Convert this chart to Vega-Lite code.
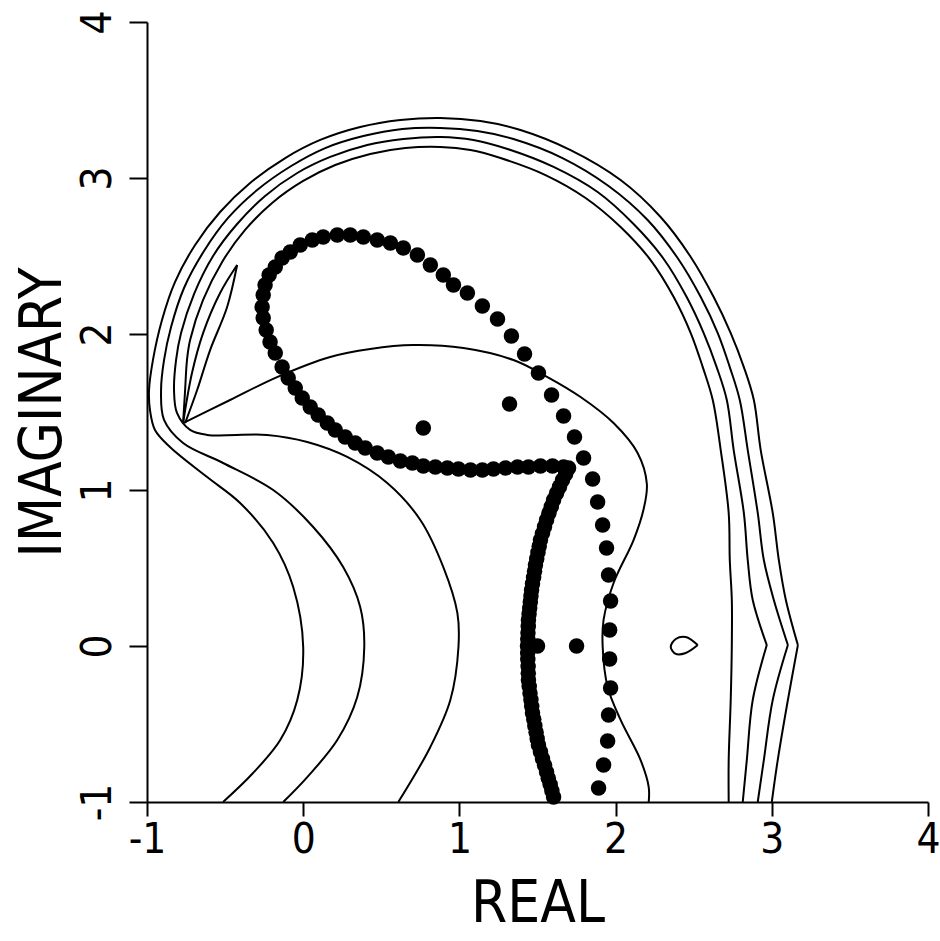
{
  "$schema": "https://vega.github.io/schema/vega-lite/v6.json",
  "width": 781,
  "height": 780,
  "autosize": {"type": "none"},
  "padding": {"left": 147, "top": 22, "right": 12, "bottom": 139},
  "background": "white",
  "config": {
    "view": {"stroke": null},
    "axis": {
      "grid": false,
      "domainColor": "black",
      "domainWidth": 2,
      "tickColor": "black",
      "tickWidth": 2,
      "labelColor": "black",
      "titleColor": "black",
      "labelFont": "DejaVu Sans Condensed, Liberation Sans Narrow, Liberation Sans",
      "titleFont": "DejaVu Sans Condensed, Liberation Sans Narrow, Liberation Sans",
      "labelFontSize": 42,
      "titleFontSize": 58,
      "titleFontWeight": "normal",
      "labelOverlap": false,
      "labelFlush": false
    }
  },
  "datasets": {
    "lines": [
      {"c":"L4a","i":0,"x":3.000,"y":-1.000},{"c":"L4a","i":1,"x":3.038,"y":-0.731},{"c":"L4a","i":2,"x":3.103,"y":-0.346},{"c":"L4a","i":3,"x":3.167,"y":0.006},
      {"c":"L4b","i":3,"x":3.167,"y":0.006},{"c":"L4b","i":4,"x":3.090,"y":0.295},{"c":"L4b","i":5,"x":3.045,"y":0.551},{"c":"L4b","i":6,"x":3.006,"y":0.853},{"c":"L4b","i":7,"x":2.929,"y":1.256},{"c":"L4b","i":8,"x":2.885,"y":1.577},{"c":"L4b","i":9,"x":2.821,"y":1.788},{"c":"L4b","i":10,"x":2.737,"y":2.006},{"c":"L4b","i":11,"x":2.628,"y":2.237},{"c":"L4b","i":12,"x":2.481,"y":2.494},{"c":"L4b","i":13,"x":2.288,"y":2.750},{"c":"L4b","i":14,"x":2.032,"y":2.987},{"c":"L4b","i":15,"x":1.712,"y":3.179},{"c":"L4b","i":16,"x":1.391,"y":3.308},{"c":"L4b","i":17,"x":1.135,"y":3.365},{"c":"L4b","i":18,"x":0.878,"y":3.385},{"c":"L4b","i":19,"x":0.622,"y":3.372},{"c":"L4b","i":20,"x":0.365,"y":3.327},{"c":"L4b","i":21,"x":0.109,"y":3.244},{"c":"L4b","i":22,"x":-0.115,"y":3.128},{"c":"L4b","i":23,"x":-0.340,"y":2.968},{"c":"L4b","i":24,"x":-0.532,"y":2.782},{"c":"L4b","i":25,"x":-0.692,"y":2.571},{"c":"L4b","i":26,"x":-0.821,"y":2.333},{"c":"L4b","i":27,"x":-0.904,"y":2.090},{"c":"L4b","i":28,"x":-0.962,"y":1.833},{"c":"L4b","i":29,"x":-0.987,"y":1.641},{"c":"L4b","i":30,"x":-0.981,"y":1.513},{"c":"L4b","i":31,"x":-0.949,"y":1.385},{"c":"L4b","i":32,"x":-0.853,"y":1.276},{"c":"L4b","i":33,"x":-0.615,"y":1.083},{"c":"L4b","i":34,"x":-0.404,"y":0.917},{"c":"L4b","i":35,"x":-0.192,"y":0.660},{"c":"L4b","i":36,"x":-0.064,"y":0.378},{"c":"L4b","i":37,"x":0.000,"y":-0.006},{"c":"L4b","i":38,"x":-0.038,"y":-0.346},{"c":"L4b","i":39,"x":-0.147,"y":-0.603},{"c":"L4b","i":40,"x":-0.321,"y":-0.814},{"c":"L4b","i":41,"x":-0.513,"y":-1.000},

      {"c":"L3a","i":0,"x":2.910,"y":-1.000},{"c":"L3a","i":1,"x":2.949,"y":-0.731},{"c":"L3a","i":2,"x":3.006,"y":-0.346},{"c":"L3a","i":3,"x":3.103,"y":0.006},
      {"c":"L3b","i":3,"x":3.103,"y":0.006},{"c":"L3b","i":4,"x":3.013,"y":0.295},{"c":"L3b","i":5,"x":2.949,"y":0.551},{"c":"L3b","i":6,"x":2.910,"y":0.853},{"c":"L3b","i":7,"x":2.846,"y":1.256},{"c":"L3b","i":8,"x":2.795,"y":1.577},{"c":"L3b","i":9,"x":2.731,"y":1.788},{"c":"L3b","i":10,"x":2.654,"y":2.006},{"c":"L3b","i":11,"x":2.545,"y":2.237},{"c":"L3b","i":12,"x":2.397,"y":2.487},{"c":"L3b","i":13,"x":2.205,"y":2.731},{"c":"L3b","i":14,"x":1.955,"y":2.949},{"c":"L3b","i":15,"x":1.660,"y":3.128},{"c":"L3b","i":16,"x":1.346,"y":3.250},{"c":"L3b","i":17,"x":1.115,"y":3.301},{"c":"L3b","i":18,"x":0.878,"y":3.321},{"c":"L3b","i":19,"x":0.635,"y":3.314},{"c":"L3b","i":20,"x":0.385,"y":3.269},{"c":"L3b","i":21,"x":0.141,"y":3.192},{"c":"L3b","i":22,"x":-0.077,"y":3.077},{"c":"L3b","i":23,"x":-0.295,"y":2.923},{"c":"L3b","i":24,"x":-0.481,"y":2.744},{"c":"L3b","i":25,"x":-0.635,"y":2.532},{"c":"L3b","i":26,"x":-0.763,"y":2.295},{"c":"L3b","i":27,"x":-0.846,"y":2.045},{"c":"L3b","i":28,"x":-0.891,"y":1.833},{"c":"L3b","i":29,"x":-0.910,"y":1.641},{"c":"L3b","i":30,"x":-0.891,"y":1.449},{"c":"L3b","i":31,"x":-0.769,"y":1.301},{"c":"L3b","i":32,"x":-0.513,"y":1.173},{"c":"L3b","i":33,"x":-0.192,"y":1.000},{"c":"L3b","i":34,"x":0.064,"y":0.763},{"c":"L3b","i":35,"x":0.256,"y":0.506},{"c":"L3b","i":36,"x":0.365,"y":0.250},{"c":"L3b","i":37,"x":0.391,"y":-0.006},{"c":"L3b","i":38,"x":0.346,"y":-0.327},{"c":"L3b","i":39,"x":0.218,"y":-0.603},{"c":"L3b","i":40,"x":0.026,"y":-0.840},{"c":"L3b","i":41,"x":-0.128,"y":-1.000},

      {"c":"L2a","i":0,"x":2.814,"y":-1.000},{"c":"L2a","i":1,"x":2.840,"y":-0.731},{"c":"L2a","i":2,"x":2.878,"y":-0.346},{"c":"L2a","i":3,"x":2.968,"y":0.006},
      {"c":"L2b","i":3,"x":2.968,"y":0.006},{"c":"L2b","i":4,"x":2.878,"y":0.295},{"c":"L2b","i":5,"x":2.846,"y":0.551},{"c":"L2b","i":6,"x":2.821,"y":0.853},{"c":"L2b","i":7,"x":2.756,"y":1.256},{"c":"L2b","i":8,"x":2.712,"y":1.577},{"c":"L2b","i":9,"x":2.647,"y":1.788},{"c":"L2b","i":10,"x":2.564,"y":2.006},{"c":"L2b","i":11,"x":2.455,"y":2.237},{"c":"L2b","i":12,"x":2.308,"y":2.481},{"c":"L2b","i":13,"x":2.115,"y":2.705},{"c":"L2b","i":14,"x":1.885,"y":2.910},{"c":"L2b","i":15,"x":1.603,"y":3.071},{"c":"L2b","i":16,"x":1.308,"y":3.186},{"c":"L2b","i":17,"x":1.090,"y":3.244},{"c":"L2b","i":18,"x":0.878,"y":3.263},{"c":"L2b","i":19,"x":0.641,"y":3.250},{"c":"L2b","i":20,"x":0.410,"y":3.212},{"c":"L2b","i":21,"x":0.173,"y":3.135},{"c":"L2b","i":22,"x":-0.038,"y":3.032},{"c":"L2b","i":23,"x":-0.244,"y":2.885},{"c":"L2b","i":24,"x":-0.423,"y":2.705},{"c":"L2b","i":25,"x":-0.577,"y":2.500},{"c":"L2b","i":26,"x":-0.699,"y":2.256},{"c":"L2b","i":27,"x":-0.782,"y":2.006},{"c":"L2b","i":28,"x":-0.814,"y":1.833},{"c":"L2b","i":29,"x":-0.827,"y":1.641},{"c":"L2b","i":30,"x":-0.808,"y":1.494},{"c":"L2b","i":31,"x":-0.724,"y":1.385},{"c":"L2b","i":32,"x":-0.615,"y":1.353},{"c":"L2b","i":33,"x":-0.231,"y":1.353},{"c":"L2b","i":34,"x":0.026,"y":1.308},{"c":"L2b","i":35,"x":0.282,"y":1.212},{"c":"L2b","i":36,"x":0.538,"y":1.045},{"c":"L2b","i":37,"x":0.750,"y":0.808},{"c":"L2b","i":38,"x":0.897,"y":0.506},{"c":"L2b","i":39,"x":0.987,"y":0.212},{"c":"L2b","i":40,"x":0.994,"y":-0.006},{"c":"L2b","i":41,"x":0.942,"y":-0.346},{"c":"L2b","i":42,"x":0.814,"y":-0.647},{"c":"L2b","i":43,"x":0.609,"y":-1.000},

      {"c":"L1a","i":0,"x":2.724,"y":-1.000},{"c":"L1a","i":1,"x":2.724,"y":-0.731},{"c":"L1a","i":2,"x":2.737,"y":-0.346},{"c":"L1a","i":3,"x":2.744,"y":0.006},{"c":"L1a","i":4,"x":2.744,"y":0.295},{"c":"L1a","i":5,"x":2.731,"y":0.551},{"c":"L1a","i":6,"x":2.724,"y":0.853},{"c":"L1a","i":7,"x":2.673,"y":1.256},{"c":"L1a","i":8,"x":2.622,"y":1.577},{"c":"L1a","i":9,"x":2.558,"y":1.788},{"c":"L1a","i":10,"x":2.481,"y":2.006},{"c":"L1a","i":11,"x":2.372,"y":2.237},{"c":"L1a","i":12,"x":2.224,"y":2.474},{"c":"L1a","i":13,"x":2.032,"y":2.686},{"c":"L1a","i":14,"x":1.808,"y":2.872},{"c":"L1a","i":15,"x":1.551,"y":3.019},{"c":"L1a","i":16,"x":1.263,"y":3.128},{"c":"L1a","i":17,"x":1.071,"y":3.179},{"c":"L1a","i":18,"x":0.878,"y":3.199},{"c":"L1a","i":19,"x":0.654,"y":3.192},{"c":"L1a","i":20,"x":0.429,"y":3.154},{"c":"L1a","i":21,"x":0.205,"y":3.083},{"c":"L1a","i":22,"x":0.000,"y":2.981},{"c":"L1a","i":23,"x":-0.199,"y":2.840},{"c":"L1a","i":24,"x":-0.372,"y":2.667},{"c":"L1a","i":25,"x":-0.519,"y":2.462},{"c":"L1a","i":26,"x":-0.641,"y":2.218},{"c":"L1a","i":27,"x":-0.724,"y":1.962},{"c":"L1a","i":28,"x":-0.744,"y":1.833},{"c":"L1a","i":29,"x":-0.756,"y":1.641},{"c":"L1a","i":30,"x":-0.769,"y":1.429},

      {"c":"L1b","i":0,"x":-0.769,"y":1.429},{"c":"L1b","i":1,"x":-0.468,"y":1.577},{"c":"L1b","i":2,"x":-0.167,"y":1.724},{"c":"L1b","i":3,"x":0.173,"y":1.853},{"c":"L1b","i":4,"x":0.429,"y":1.904},{"c":"L1b","i":5,"x":0.705,"y":1.929},{"c":"L1b","i":6,"x":1.026,"y":1.910},{"c":"L1b","i":7,"x":1.346,"y":1.833},{"c":"L1b","i":8,"x":1.564,"y":1.724},{"c":"L1b","i":9,"x":1.776,"y":1.596},{"c":"L1b","i":10,"x":1.987,"y":1.429},{"c":"L1b","i":11,"x":2.141,"y":1.237},{"c":"L1b","i":12,"x":2.200,"y":1.040},{"c":"L1b","i":13,"x":2.180,"y":0.880},{"c":"L1b","i":14,"x":2.115,"y":0.679},{"c":"L1b","i":15,"x":1.987,"y":0.404},{"c":"L1b","i":16,"x":1.923,"y":0.167},{"c":"L1b","i":17,"x":1.917,"y":0.000},{"c":"L1b","i":18,"x":1.949,"y":-0.263},{"c":"L1b","i":19,"x":2.032,"y":-0.474},{"c":"L1b","i":20,"x":2.160,"y":-0.731},{"c":"L1b","i":21,"x":2.212,"y":-0.904},{"c":"L1b","i":22,"x":2.212,"y":-1.000},

      {"c":"Wa","i":0,"x":-0.769,"y":1.429},{"c":"Wa","i":1,"x":-0.712,"y":1.750},{"c":"Wa","i":2,"x":-0.641,"y":2.006},{"c":"Wa","i":3,"x":-0.532,"y":2.263},{"c":"Wa","i":4,"x":-0.423,"y":2.442},
      {"c":"Wb","i":0,"x":-0.423,"y":2.442},{"c":"Wb","i":1,"x":-0.487,"y":2.173},{"c":"Wb","i":2,"x":-0.596,"y":1.897},{"c":"Wb","i":3,"x":-0.679,"y":1.641},{"c":"Wb","i":4,"x":-0.756,"y":1.429},

      {"c":"T","i":0,"x":2.526,"y":0.006},{"c":"T","i":1,"x":2.449,"y":0.058},{"c":"T","i":2,"x":2.385,"y":0.045},{"c":"T","i":3,"x":2.353,"y":-0.006},{"c":"T","i":4,"x":2.385,"y":-0.051},{"c":"T","i":5,"x":2.449,"y":-0.045},{"c":"T","i":6,"x":2.526,"y":0.006}
    ],
    "dots": [
      {"x":1.603,"y":-0.968},{"x":1.592,"y":-0.928},{"x":1.581,"y":-0.888},{"x":1.569,"y":-0.848},
      {"x":1.558,"y":-0.808},{"x":1.545,"y":-0.765},{"x":1.532,"y":-0.722},{"x":1.519,"y":-0.678},
      {"x":1.506,"y":-0.635},{"x":1.498,"y":-0.594},{"x":1.491,"y":-0.553},{"x":1.483,"y":-0.511},{"x":1.476,"y":-0.470},
      {"x":1.468,"y":-0.429},{"x":1.463,"y":-0.387},{"x":1.458,"y":-0.345},{"x":1.452,"y":-0.302},{"x":1.447,"y":-0.260},
      {"x":1.442,"y":-0.218},{"x":1.441,"y":-0.174},{"x":1.440,"y":-0.131},{"x":1.438,"y":-0.087},{"x":1.437,"y":-0.044},
      {"x":1.436,"y":0.000},{"x":1.438,"y":0.042},{"x":1.439,"y":0.084},{"x":1.441,"y":0.125},
      {"x":1.442,"y":0.167},{"x":1.446,"y":0.205},{"x":1.450,"y":0.244},{"x":1.454,"y":0.282},{"x":1.458,"y":0.321},
      {"x":1.462,"y":0.359},{"x":1.468,"y":0.399},{"x":1.475,"y":0.439},{"x":1.481,"y":0.479},
      {"x":1.487,"y":0.519},{"x":1.495,"y":0.559},{"x":1.503,"y":0.599},{"x":1.511,"y":0.639},
      {"x":1.519,"y":0.679},{"x":1.532,"y":0.722},{"x":1.545,"y":0.765},
      {"x":1.558,"y":0.808},{"x":1.573,"y":0.851},{"x":1.588,"y":0.893},
      {"x":1.603,"y":0.936},{"x":1.622,"y":0.979},{"x":1.641,"y":1.021},
      {"x":1.660,"y":1.064},{"x":1.680,"y":1.103},{"x":1.699,"y":1.141},
      {"x":1.667,"y":1.147},{"x":1.596,"y":1.154},{"x":1.519,"y":1.154},{"x":1.442,"y":1.147},{"x":1.372,"y":1.147},{"x":1.295,"y":1.141},{"x":1.218,"y":1.135},{"x":1.147,"y":1.128},{"x":1.071,"y":1.128},{"x":0.994,"y":1.135},{"x":0.923,"y":1.141},{"x":0.846,"y":1.147},{"x":0.769,"y":1.154},{"x":0.699,"y":1.173},{"x":0.622,"y":1.186},{"x":0.545,"y":1.212},{"x":0.474,"y":1.237},{"x":0.397,"y":1.269},{"x":0.333,"y":1.301},{"x":0.269,"y":1.340},{"x":0.205,"y":1.385},{"x":0.154,"y":1.429},{"x":0.096,"y":1.481},{"x":0.045,"y":1.532},{"x":-0.006,"y":1.590},{"x":-0.051,"y":1.654},{"x":-0.096,"y":1.718},{"x":-0.135,"y":1.788},{"x":-0.179,"y":1.878},{"x":-0.212,"y":1.949},{"x":-0.237,"y":2.026},{"x":-0.256,"y":2.103},{"x":-0.263,"y":2.173},{"x":-0.256,"y":2.250},{"x":-0.244,"y":2.314},{"x":-0.218,"y":2.378},{"x":-0.179,"y":2.429},{"x":-0.135,"y":2.487},{"x":-0.083,"y":2.526},{"x":-0.019,"y":2.571},{"x":0.058,"y":2.603},{"x":0.128,"y":2.622},{"x":0.218,"y":2.635},{"x":0.301,"y":2.635},{"x":0.385,"y":2.622},{"x":0.474,"y":2.603},{"x":0.558,"y":2.583},
      {"x":0.641,"y":2.551},{"x":0.731,"y":2.506},{"x":0.814,"y":2.442},{"x":0.897,"y":2.378},{"x":0.962,"y":2.314},{"x":1.051,"y":2.263},{"x":1.147,"y":2.179},{"x":1.244,"y":2.096},{"x":1.333,"y":1.987},{"x":1.417,"y":1.872},{"x":1.506,"y":1.750},{"x":1.590,"y":1.609},{"x":1.667,"y":1.474},{"x":1.737,"y":1.340},{"x":1.795,"y":1.205},{"x":1.853,"y":1.071},{"x":1.885,"y":0.923},{"x":1.917,"y":0.776},{"x":1.942,"y":0.628},{"x":1.955,"y":0.455},{"x":1.968,"y":0.288},{"x":1.962,"y":0.103},{"x":1.962,"y":-0.083},{"x":1.968,"y":-0.269},{"x":1.955,"y":-0.442},{"x":1.949,"y":-0.609},{"x":1.923,"y":-0.763},{"x":1.891,"y":-0.910},
      {"x":0.769,"y":1.397},{"x":1.321,"y":1.551},{"x":1.500,"y":0.000},{"x":1.750,"y":0.000}
    ]
  },
  "layer": [
    {
      "data": {"name": "lines"},
      "mark": {"type": "line", "color": "black", "strokeWidth": 2, "interpolate": "catmull-rom"},
      "encoding": {
        "x": {"field": "x", "type": "quantitative", "scale": {"domain": [-1, 4], "nice": false, "zero": false},
              "axis": {"values": [-1, 0, 1, 2, 3, 4], "title": "REAL", "tickSize": 14, "labelPadding": 3, "titlePadding": 15, "labelExpr": "'' + datum.value"}},
        "y": {"field": "y", "type": "quantitative", "scale": {"domain": [-1, 4], "nice": false, "zero": false},
              "axis": {"values": [-1, 0, 1, 2, 3, 4], "title": "IMAGINARY", "tickSize": 18, "labelPadding": 10, "labelAngle": -90, "labelAlign": "center", "labelBaseline": "bottom", "titlePadding": 4, "labelExpr": "'' + datum.value"}},
        "detail": {"field": "c", "type": "nominal"},
        "order": {"field": "i", "type": "quantitative"}
      }
    },
    {
      "data": {"name": "dots"},
      "mark": {"type": "circle", "color": "black", "opacity": 1, "size": 240},
      "encoding": {
        "x": {"field": "x", "type": "quantitative"},
        "y": {"field": "y", "type": "quantitative"}
      }
    }
  ]
}
